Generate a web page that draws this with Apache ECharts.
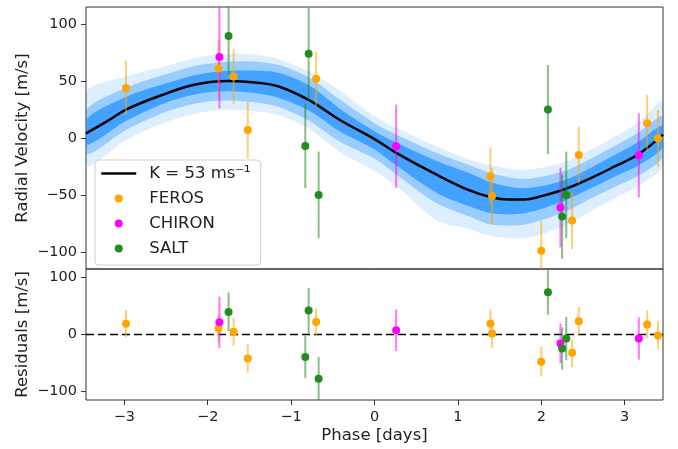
<!DOCTYPE html>
<html><head><meta charset="utf-8">
<script src="https://cdn.jsdelivr.net/npm/echarts@6/dist/echarts.min.js"></script>
<style>html,body{margin:0;padding:0;background:#fff}#c{width:678px;height:449px}</style>
</head><body><div id="c"></div>
<script>
// ---- tick labels / axis ranges ----
const xTicks = [-3, -2, -1, 0, 1, 2, 3];
const rvTicks = [-100, -50, 0, 50, 100];
const resTicks = [-100, 0, 100];
const xRange = [-3.46, 3.46];
const yRange = [-115, 115];

// ---- FEROS ----
const ferosPhase = [-2.98, -1.87, -1.69, -1.52, -0.70, 1.39, 1.41, 2.00, 2.37, 2.45, 3.27, 3.40];
const ferosRV    = [44, 61, 54, 7, 52, -33.5, -51, -99, -72.5, -15, 13, -0.5];
const ferosErr   = [24, 25, 24, 25, 24, 25, 25, 26, 25, 25, 25, 25];
const ferosRes   = [19, 10.5, 4.7, -42, 22, 19, 1.7, -48, -32, 23.3, 17.5, -1.7];

// ---- CHIRON ----
const chironPhase = [-1.86, 0.26, 2.23, 3.17];
const chironRV    = [71, -7.3, -61, -15.2];
const chironErr   = [45, 36.5, 35, 37];
const chironRes   = [21.5, 7.6, -15.7, -7];

// ---- SALT ----
const saltPhase = [-1.75, -0.83, -0.79, -0.67, 2.08, 2.25, 2.30];
const saltRV    = [89.5, -7, 74, -50, 25, -69, -50];
const saltErr   = [34, 37, 40, 38, 39, 37, 38];
const saltRes   = [39.7, -39.6, 42, -77.5, 74, -24.5, -7];

// ---- best-fit model curve ----
const modelPhase = [-3.46, -3.2, -2.98, -2.5, -2.15, -1.75, -1.4, -1.14, -0.78, -0.42, 0.0, 0.26, 0.74, 1.14, 1.4, 1.6, 1.8, 2.0, 2.28, 2.6, 2.88, 3.17, 3.46];
const modelRV    = [4, 15, 25, 39, 47, 50, 48.5, 45, 33, 16, -1, -13, -32, -46, -52, -54, -54, -51, -45, -35, -25, -14, 3];

// ---- posterior sample envelopes ----
const bandPhase = [-3.46, -2.98, -2.5, -2.1, -1.75, -1.4, -1.14, -0.78, -0.42, 0.0, 0.26, 0.74, 1.14, 1.4, 1.8, 2.28, 2.6, 2.88, 3.17, 3.46];
const coreHigh  = [16, 36, 48, 56, 59, 59, 57, 46, 26, 6, -4, -20, -31, -39, -44, -37, -26, -15, -3, 11];
const coreLow   = [-6, 15, 31, 39, 41, 39, 35, 24, 6, -10, -24, -48, -60, -66, -66, -55, -44, -34, -24, -8];
const midHigh   = [24, 44, 56, 64, 67, 67, 64, 53, 34, 13, 3, -13, -24, -31, -36, -29, -18, -7, 5, 19];
const midLow    = [-14, 7, 23, 31, 33, 31, 27, 15, -3, -18, -32, -57, -69, -76, -76, -65, -53, -43, -33, -16];
const outerHigh = [40, 54, 63, 71, 74, 73, 69, 58, 42, 19, 9, -7, -19, -24, -28, -21, -10, 1, 14, 32];
const outerLow  = [-24, -2, 14, 22, 25, 23, 20, 8, -12, -29, -42, -72, -80, -86, -88, -77, -64, -53, -42, -24];

const cFeros = '#FFA500', cChiron = '#FF00FF', cSalt = '#228B22';
const modelName = 'K = 53 ms\u207B\u00B9';
const FONT = 'DejaVu Sans';

const fmt = v => (v < 0 ? '\u2212' + Math.abs(v) : String(v));
const pairs = (xs, ys) => xs.map((x, i) => [x, ys[i]]);

function errSeries(name, gi, phase, vals, errs, color) {
  return {
    type: 'custom', name: name, xAxisIndex: gi, yAxisIndex: gi, silent: true, z: 3,
    data: phase.map((p, i) => [p, vals[i], errs[i]]),
    encode: { x: 0, y: 1 },
    renderItem: function (params, api) {
      const x = api.value(0), y = api.value(1), e = api.value(2);
      const lo = Math.max(y - e, yRange[0]), hi = Math.min(y + e, yRange[1]);
      const p1 = api.coord([x, lo]), p2 = api.coord([x, hi]);
      return { type: 'line', shape: { x1: p1[0], y1: p1[1], x2: p2[0], y2: p2[1] },
               style: { stroke: color, lineWidth: 2, opacity: 0.55 } };
    }
  };
}
function ptSeries(name, gi, phase, vals, color) {
  return { type: 'scatter', name: name, xAxisIndex: gi, yAxisIndex: gi, z: 4,
           symbol: 'circle', symbolSize: 8, itemStyle: { color: color, opacity: 1 },
           data: pairs(phase, vals) };
}
function bandSeries(id, lows, highs, color) {
  return {
    type: 'custom', name: id, xAxisIndex: 0, yAxisIndex: 0, silent: true, z: 1,
    data: [[bandPhase[0], lows[0]]], encode: { x: 0, y: 1 },
    renderItem: function (params, api) {
      const pts = [];
      for (let i = 0; i < bandPhase.length; i++) pts.push(api.coord([bandPhase[i], highs[i]]));
      for (let i = bandPhase.length - 1; i >= 0; i--) pts.push(api.coord([bandPhase[i], lows[i]]));
      const cs = params.coordSys;
      return {
        type: 'group',
        clipPath: { type: 'rect', shape: { x: cs.x, y: cs.y, width: cs.width, height: cs.height } },
        children: [{ type: 'polygon', shape: { points: pts, smooth: 0.3 }, style: { fill: color } }]
      };
    }
  };
}

const axisLabelStyle = { fontFamily: FONT, fontSize: 14.5, color: '#222' };
const nameStyle = { fontFamily: FONT, fontSize: 16.5, color: '#222' };
const tickStyle = { show: true, length: 5, lineStyle: { color: '#333' } };

const option = {
  animation: false,
  backgroundColor: '#fff',
  grid: [
    { left: 86, right: 15, top: 7, height: 262, show: true, borderColor: '#333', borderWidth: 1, backgroundColor: 'transparent' },
    { left: 86, right: 15, top: 269, height: 131, show: true, borderColor: '#333', borderWidth: 1, backgroundColor: 'transparent' }
  ],
  xAxis: [
    { gridIndex: 0, type: 'value', min: xRange[0], max: xRange[1], position: 'bottom',
      axisLine: { show: false, onZero: false }, axisTick: { show: false }, axisLabel: { show: false }, splitLine: { show: false } },
    { gridIndex: 1, type: 'value', min: xRange[0], max: xRange[1], position: 'bottom',
      axisLine: { show: false, onZero: false }, splitLine: { show: false },
      axisTick: Object.assign({ customValues: xTicks }, tickStyle),
      axisLabel: Object.assign({ margin: 10, formatter: fmt, customValues: xTicks }, axisLabelStyle),
      name: 'Phase [days]', nameLocation: 'middle', nameGap: 27, nameMoveOverlap: false, nameTextStyle: nameStyle }
  ],
  yAxis: [
    { gridIndex: 0, type: 'value', min: yRange[0], max: yRange[1], position: 'left',
      axisLine: { show: false, onZero: false }, splitLine: { show: false },
      axisTick: Object.assign({ customValues: rvTicks }, tickStyle),
      axisLabel: Object.assign({ margin: 9, formatter: fmt, customValues: rvTicks }, axisLabelStyle),
      name: 'Radial Velocity [m/s]', nameLocation: 'middle', nameGap: 55, nameRotate: 90, nameMoveOverlap: false, nameTextStyle: nameStyle },
    { gridIndex: 1, type: 'value', min: yRange[0], max: yRange[1], position: 'left',
      axisLine: { show: false, onZero: false }, splitLine: { show: false },
      axisTick: Object.assign({ customValues: resTicks }, tickStyle),
      axisLabel: Object.assign({ margin: 9, formatter: fmt, customValues: resTicks }, axisLabelStyle),
      name: 'Residuals [m/s]', nameLocation: 'middle', nameGap: 55, nameRotate: 90, nameMoveOverlap: false, nameTextStyle: nameStyle }
  ],
  legend: {
    show: true, orient: 'vertical', left: 95, top: 160, selectedMode: false,
    data: [
      { name: modelName, itemStyle: { color: 'rgba(0,0,0,0)', borderWidth: 0 }, lineStyle: { color: '#000', width: 2.5 } },
      'FEROS', 'CHIRON', 'SALT'
    ],
    itemWidth: 35, itemHeight: 8, itemGap: 8,
    padding: [5, 10, 8, 5],
    backgroundColor: 'rgba(255,255,255,0.85)', borderColor: '#cfcfcf', borderWidth: 1, borderRadius: 4,
    textStyle: { fontFamily: FONT, fontSize: 16.5, color: '#222', lineHeight: 16, padding: [0, 0, 0, 8] },
    z: 10
  },
  series: [
    bandSeries('outer', outerLow, outerHigh, 'rgba(30,144,255,0.15)'),
    bandSeries('mid', midLow, midHigh, 'rgba(30,144,255,0.35)'),
    bandSeries('core', coreLow, coreHigh, 'rgba(30,144,255,0.7)'),
    { type: 'line', name: modelName, xAxisIndex: 0, yAxisIndex: 0, smooth: 0.4, symbol: 'none', z: 2,
      lineStyle: { color: '#000', width: 2.5 }, itemStyle: { color: '#000' }, data: pairs(modelPhase, modelRV) },
    { type: 'line', name: 'zero', xAxisIndex: 1, yAxisIndex: 1, symbol: 'none', silent: true, z: 2,
      lineStyle: { color: '#000', width: 1.5, type: [8, 4] }, data: [[xRange[0], 0], [xRange[1], 0]] },
    errSeries('FEROS err', 0, ferosPhase, ferosRV, ferosErr, cFeros),
    errSeries('CHIRON err', 0, chironPhase, chironRV, chironErr, cChiron),
    errSeries('SALT err', 0, saltPhase, saltRV, saltErr, cSalt),
    errSeries('FEROS rerr', 1, ferosPhase, ferosRes, ferosErr, cFeros),
    errSeries('CHIRON rerr', 1, chironPhase, chironRes, chironErr, cChiron),
    errSeries('SALT rerr', 1, saltPhase, saltRes, saltErr, cSalt),
    ptSeries('FEROS', 0, ferosPhase, ferosRV, cFeros),
    ptSeries('CHIRON', 0, chironPhase, chironRV, cChiron),
    ptSeries('SALT', 0, saltPhase, saltRV, cSalt),
    ptSeries('FEROS', 1, ferosPhase, ferosRes, cFeros),
    ptSeries('CHIRON', 1, chironPhase, chironRes, cChiron),
    ptSeries('SALT', 1, saltPhase, saltRes, cSalt)
  ]
};
const chart = echarts.init(document.getElementById('c'), null, { renderer: 'canvas' });
chart.setOption(option);
</script></body></html>
